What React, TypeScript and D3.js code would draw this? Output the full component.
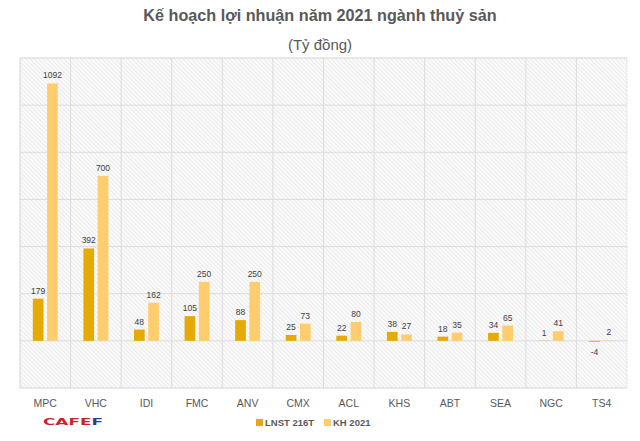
import * as d3 from "d3";

const categories = ["MPC", "VHC", "IDI", "FMC", "ANV", "CMX", "ACL", "KHS", "ABT", "SEA", "NGC", "TS4"];
const lnst = [179, 392, 48, 105, 88, 25, 22, 38, 18, 34, 1, -4];
const kh2021 = [1092, 700, 162, 250, 250, 73, 80, 27, 35, 65, 41, 2];
const seriesNames = ["LNST 216T", "KH 2021"];
const seriesColors = ["#e6aa07", "#ffcd6e"];
const yTicks = [-200, 0, 200, 400, 600, 800, 1000, 1200];

const W = 640;
const H = 441;
const plot = { left: 20, right: 627, top: 58, bottom: 388 };

export default function App() {
  const x0 = d3.scaleBand<string>().domain(categories).range([plot.left, plot.right]).padding(0);
  const x1 = d3
    .scaleBand<string>()
    .domain(seriesNames)
    .range([0, x0.bandwidth()])
    .paddingInner(0.25)
    .paddingOuter(0.9);
  const y = d3.scaleLinear().domain([-200, 1200]).range([plot.bottom, plot.top]);

  const series = [lnst, kh2021];
  const font = "'Liberation Sans', Arial, sans-serif";

  return (
    <svg width={W} height={H} style={{ position: "absolute", left: 0, top: 0, background: "#fff" }} fontFamily={font}>
      <defs>
        <pattern id="hatch" width="3" height="3" patternUnits="userSpaceOnUse" patternTransform="rotate(-45)">
          <rect width="3" height="3" fill="#fbfbfb" />
          <line x1="0" y1="0" x2="0" y2="3" stroke="#e0e0e0" strokeWidth="1.2" />
        </pattern>
      </defs>

      <text x={W / 2} y={21} textAnchor="middle" fontSize={16.2} fontWeight="bold" fill="#595959">
        Kế hoạch lợi nhuận năm 2021 ngành thuỷ sản
      </text>
      <text x={W / 2} y={50} textAnchor="middle" fontSize={15} fill="#595959">
        (Tỷ đồng)
      </text>

      <rect
        x={plot.left}
        y={plot.top}
        width={plot.right - plot.left}
        height={plot.bottom - plot.top}
        fill="url(#hatch)"
        stroke="#dadada"
        strokeDasharray="1 1"
      />

      {yTicks.map((t) => (
        <line key={t} x1={plot.left} x2={plot.right} y1={y(t)} y2={y(t)} stroke="#dcdcdc" strokeWidth={1} />
      ))}
      {categories.map((c) => (
        <line key={c} x1={x0(c)} x2={x0(c)} y1={plot.top} y2={plot.bottom} stroke="#dcdcdc" strokeWidth={1} />
      ))}

      {categories.map((c, i) => (
        <g key={c} transform={`translate(${x0(c)},0)`}>
          {series.map((vals, s) => {
            const v = vals[i];
            const bx = x1(seriesNames[s])!;
            const top = Math.min(y(v), y(0));
            const h = Math.abs(y(v) - y(0));
            const ly = v >= 0 ? y(v) - 5 : y(v) + 13;
            return (
              <g key={s}>
                <rect x={bx} y={top} width={x1.bandwidth()} height={h} fill={seriesColors[s]} />
                <text x={bx + x1.bandwidth() / 2} y={ly} textAnchor="middle" fontSize={8.5} fill="#404040">
                  {v}
                </text>
              </g>
            );
          })}
          <text x={x0.bandwidth() / 2} y={407} textAnchor="middle" fontSize={10.5} fill="#595959">
            {c}
          </text>
        </g>
      ))}

      {seriesNames.map((n, s) => {
        const lx = s === 0 ? 256 : 324;
        return (
          <g key={n}>
            <rect x={lx} y={419} width={7} height={7} fill={seriesColors[s]} />
            <text x={lx + 9} y={426} fontSize={9.5} fontWeight="bold" fill="#595959">
              {n}
            </text>
          </g>
        );
      })}

      <text
        x={43}
        y={425}
        fontSize={9}
        fontWeight="bold"
        fontFamily="'DejaVu Sans', sans-serif"
        textLength={60}
        lengthAdjust="spacingAndGlyphs"
        fill="#d0202a"
      >
        CAFE<tspan fill="#1f3f8f">F</tspan>
      </text>
    </svg>
  );
}
